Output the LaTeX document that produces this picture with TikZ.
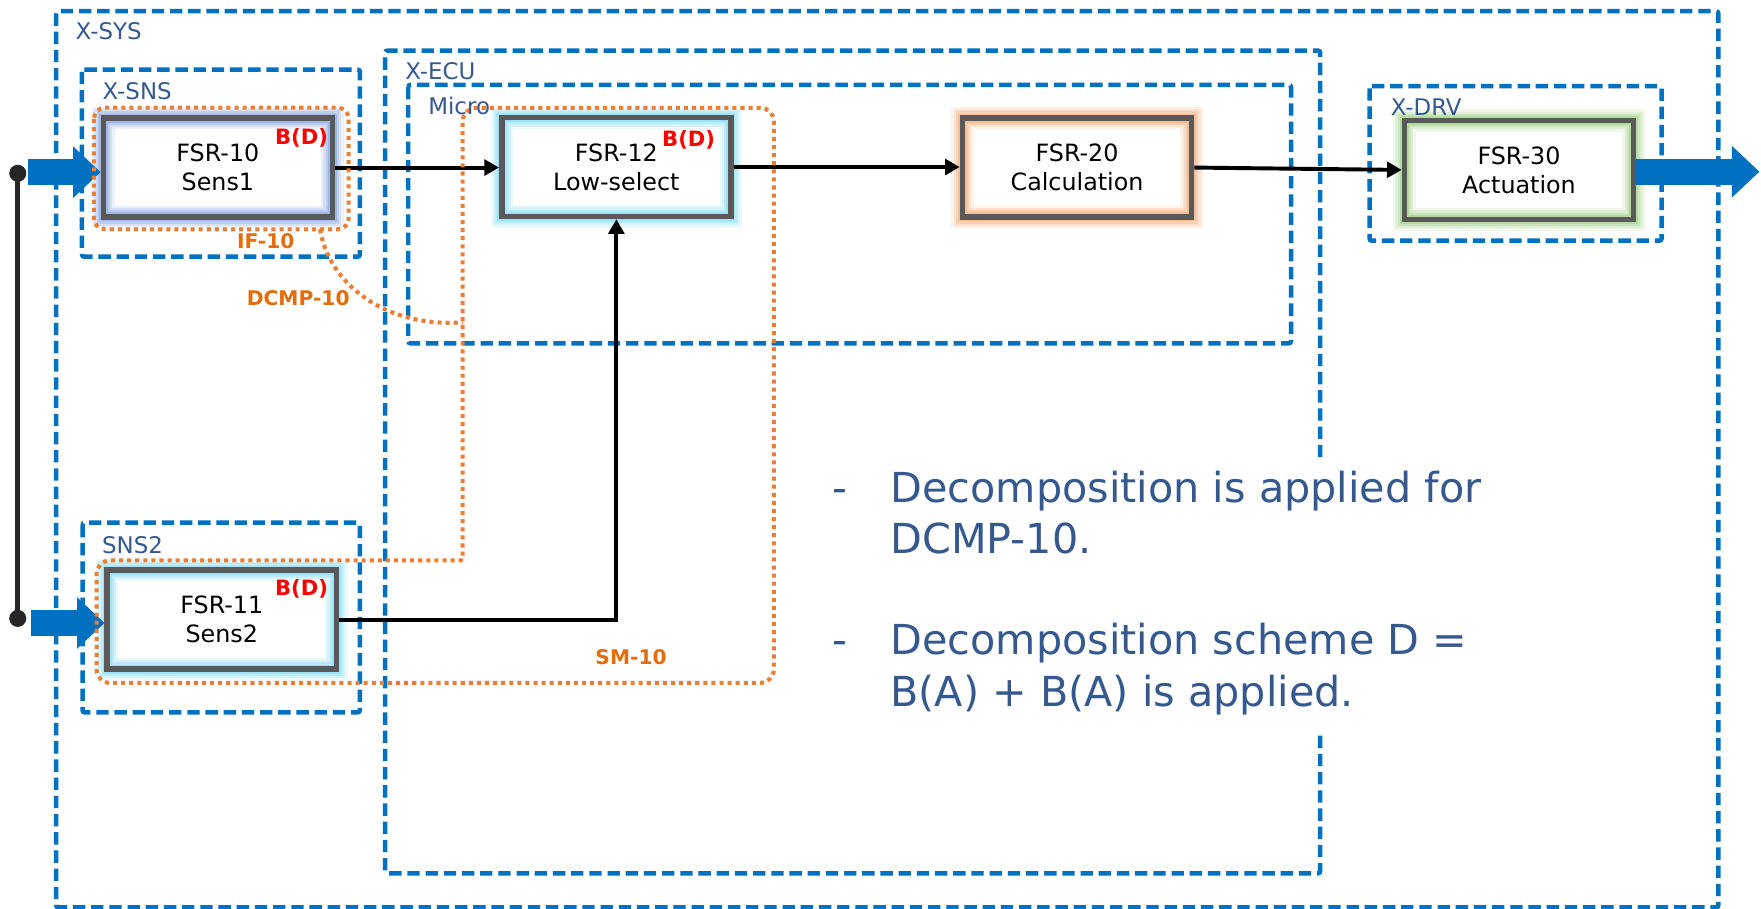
\documentclass[tikz,border=0pt]{standalone}
\usepackage{fontspec}
\setmainfont{DejaVu Sans}
\usetikzlibrary{arrows.meta,calc}

\definecolor{sysblue}{HTML}{0070C0}
\definecolor{txtblue}{HTML}{35598F}
\definecolor{boxgray}{HTML}{595959}
\definecolor{orng}{HTML}{ED7D31}
\definecolor{orngtxt}{HTML}{E46C0A}
\definecolor{bdred}{HTML}{FF0000}
\definecolor{darkline}{HTML}{262626}
\definecolor{glowblue}{HTML}{7F9FE0}
\definecolor{glowcyan}{HTML}{7ED9F3}
\definecolor{glowpeach}{HTML}{F2A772}
\definecolor{glowgreen}{HTML}{9ACD7E}

\tikzset{
  group/.style={draw=sysblue, line width=2pt, dash pattern=on 5.5pt off 2.6pt, rounded corners=1pt},
  glabel/.style={text=txtblue, font=\fontsize{10.2}{12}\selectfont, anchor=base west, inner sep=0pt},
  fsr/.style={draw=boxgray, line width=2.5pt, minimum width=102pt, minimum height=44pt,
    inner sep=0pt, align=center, font=\fontsize{10.6}{12.9}\selectfont,
    preaction={fill=white},
    preaction={draw=#1, line width=10pt, opacity=0.15},
    preaction={draw=#1, line width=8pt, opacity=0.2},
    preaction={draw=#1, line width=6pt, opacity=0.3},
    preaction={draw=#1, line width=4pt, opacity=0.45}},
  bd/.style={text=bdred, font=\bfseries\fontsize{9.4}{11}\selectfont, anchor=base west, inner sep=0pt},
  olabel/.style={text=orngtxt, font=\bfseries\fontsize{9}{11}\selectfont, anchor=base west, inner sep=0pt},
  dotorng/.style={draw=orng, line width=1.8pt, dash pattern=on 1.8pt off 1.8pt},
  arr/.style={draw=black, line width=1.75pt, -{Triangle[length=6.5pt, width=7pt]}},
  bigarrow/.style={draw=sysblue, line width=11.6pt, -{Triangle[length=12.2pt, width=23pt, line width=0pt]}},
  note/.style={text=txtblue, font=\fontsize{18.4}{22}\selectfont, anchor=base west, inner sep=0pt},
  dot/.style={circle, fill=darkline, inner sep=0pt, minimum size=7.6pt}
}

\begin{document}
\begin{tikzpicture}[x=0.5pt, y=-0.5pt]
\useasboundingbox (0,0) rectangle (1568,809);

% system, component and micro boundaries
\draw[group] (50,10) rectangle (1530,808);
\draw[group] (73,62) rectangle (320.5,228.5);
\draw[group] (73.5,465.4) rectangle (320.4,634.3);
\draw[group] (1175.5,407) -- (1175.5,45) -- (343,45) -- (343,777.6) -- (1175.5,777.6) -- (1175.5,655);
\draw[group] (363.5,75.5) rectangle (1149.5,305.7);
\draw[group] (1219.4,76.6) rectangle (1479.5,214.3);

% sensor supply line
\node[dot] (d1) at (15.8,154.3) {};
\node[dot] (d2) at (15.8,550.6) {};
\draw[line width=2pt, darkline] (d1.center) -- (d2.center);

% requirement blocks
\node[fsr=glowblue]  (fsr10) at (194,149.2)    {FSR-10\\Sens1};
\node[fsr=glowcyan]  (fsr12) at (548.8,148.7)  {FSR-12\\Low-select};
\node[fsr=glowpeach] (fsr20) at (959,149.2)    {FSR-20\\Calculation};
\node[fsr=glowgreen] (fsr30) at (1352.5,151.3) {FSR-30\\Actuation};
\node[fsr=glowcyan]  (fsr11) at (197.5,551.7)  {FSR-11\\Sens2};

% external inputs and output
\coordinate (in1) at (24.6,153.3);
\coordinate (in2) at (27.9,554.7);
\coordinate (out1) at (1566.5,152.9);
\draw[bigarrow] (in1) -- (in1 -| fsr10.west);
\draw[bigarrow] (in2) -- (in2 -| fsr11.west);
\draw[bigarrow] (fsr30.east |- out1) -- (out1);

% signal flow
\draw[arr] (fsr10.east) -- (fsr10.east -| fsr12.west);
\draw[arr] (fsr12.east) -- (fsr12.east -| fsr20.west);
\draw[arr] (fsr20.east) -- (fsr30.west);
\draw[arr] (fsr11.east) -| (fsr12.south);

% interface, decomposition and safety mechanism outlines
\draw[dotorng, rounded corners=5pt] (83.6,95.9) rectangle (310.5,204.2);
\coordinate (if10b) at (285,204.2);
\coordinate (dcmpl) at (412,287);
\draw[dotorng] (if10b) .. controls (292,250) and (340,292) .. (dcmpl);
\draw[dotorng, rounded corners=6pt] (412,499) -- (86,499) -- (86,608) -- (689,608) -- (689,96) -- (412,96) -- (412,499);

% boundary labels
\node[glabel] (lsys)   at (67,35.6)     {X-SYS};
\node[glabel] (lsns)   at (91,88.4)     {X-SNS};
\node[glabel] (lecu)   at (360.5,71.2)  {X-ECU};
\node[glabel] (lmicro) at (381,101.8)   {Micro};
\node[glabel] (ldrv)   at (1238,102.4)  {X-DRV};
\node[glabel] (lsns2)  at (90.5,492.7)  {SNS2};

% ASIL tags
\node[bd] (bd10) at (244.6,129.1) {B(D)};
\node[bd] (bd12) at (589.2,130)   {B(D)};
\node[bd] (bd11) at (244.5,529.8) {B(D)};

% outline labels
\node[olabel] (lif)   at (210.8,221.1) {IF-10};
\node[olabel] (ldcmp) at (219.4,272.2) {DCMP-10};
\node[olabel] (lsm)   at (529.8,591.5) {SM-10};

% notes
\node[note] (bul1) at (741,447.6)   {-};
\node[note] (t1a)  at (792.5,447.6) {Decomposition is applied for};
\node[note] (t1b)  at (792.5,492.7) {DCMP-10.};
\node[note] (bul2) at (741,583.2)   {-};
\node[note] (t2a)  at (792.5,583.2) {Decomposition scheme D =};
\node[note] (t2b)  at (792.5,629.2) {B(A) + B(A) is applied.};
\end{tikzpicture}
\end{document}
